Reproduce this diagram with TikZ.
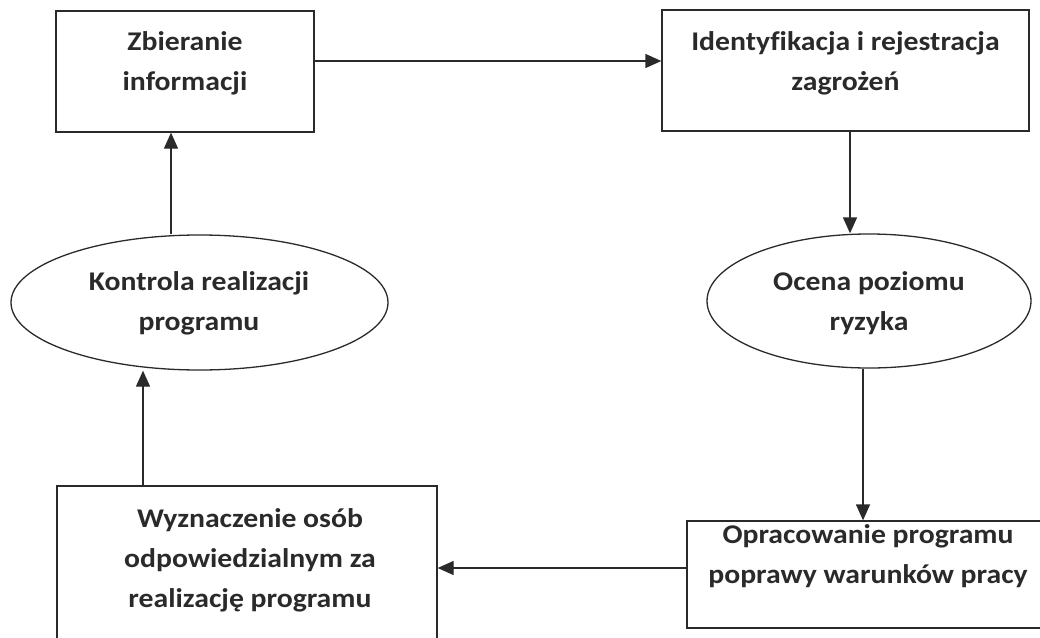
\documentclass[tikz,border=0pt]{standalone}
\usepackage{fontspec}
\setmainfont{Carlito}[FakeStretch=1.1,Ligatures=NoCommon]
\usetikzlibrary{arrows.meta,shapes.geometric}
\definecolor{ink}{HTML}{2A2A2A}
\tikzset{
  shapebox/.style={draw=ink, line width=1.3pt, inner sep=0pt, rectangle},
  shapeell/.style={draw=ink, line width=1.3pt, inner sep=0pt, ellipse},
  lbl/.style={anchor=base, align=center, inner sep=0pt, text=ink,
    font=\bfseries\fontsize{27}{40}\selectfont},
  arr/.style={draw=ink, line width=1.3pt, -{Triangle[length=16pt,width=14pt]}}
}
\begin{document}
\begin{tikzpicture}[x=1pt,y=-1pt]
\useasboundingbox (0,0) rectangle (1040,637);
% shapes
\node[shapebox, minimum width=258pt, minimum height=121pt] (b1) at (185,71.5) {};
\node[shapebox, minimum width=367pt, minimum height=121pt] (b2) at (845.5,70.5) {};
\node[shapeell, minimum width=377pt, minimum height=135pt] (e1) at (199.5,302.5) {};
\node[shapeell, minimum width=324pt, minimum height=134pt] (e2) at (869,301) {};
\node[shapebox, minimum width=380pt, minimum height=174pt] (b3) at (247,573) {};
\node[shapebox, minimum width=373pt, minimum height=107pt] (b4) at (873.5,574.5) {};
% texts (anchor = baseline of last line)
\node[lbl] (t1) at (185,90) {Zbieranie\\informacji};
\node[lbl] (t2) at (845.5,90) {Identyfikacja i rejestracja\\zagrożeń};
\node[lbl] (t3) at (199,330) {Kontrola realizacji\\programu};
\node[lbl] (t4) at (869,330) {Ocena poziomu\\ryzyka};
\node[lbl] (t5) at (250,607) {Wyznaczenie osób\\odpowiedzialnym za\\realizację programu};
\node[lbl] (t6) at (868,583) {Opracowanie programu\\poprawy warunków pracy};
% connectors
\draw[arr] ([yshift=10.5pt]b1.east) -- ([yshift=10.5pt]b1.east -| b2.west);
\draw[arr] ([xshift=4.5pt]b2.south) -- ([xshift=4.5pt]b2.south |- e2.north);
\draw[arr] ([xshift=-6pt]e2.south) -- ([xshift=-6pt]e2.south |- b4.north);
\draw[arr] ([yshift=6.5pt]b4.west) -- ([yshift=6.5pt]b4.west -| b3.east);
\draw[arr] ([xshift=-56.5pt]e1.south |- b3.north) -- ([xshift=-56.5pt]e1.south);
\draw[arr] ([xshift=-28.5pt]e1.north) -- ([xshift=-28.5pt]e1.north |- b1.south);
\end{tikzpicture}
\end{document}
